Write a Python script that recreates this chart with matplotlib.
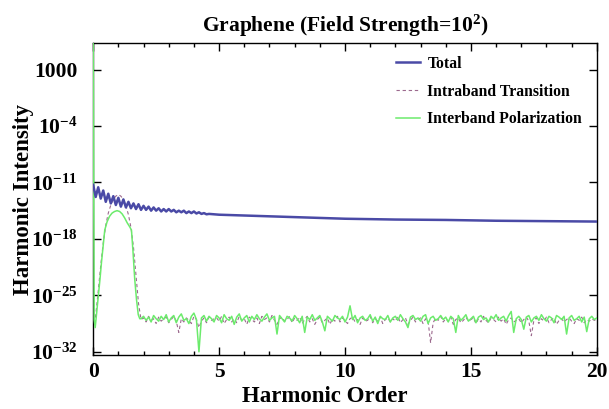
import matplotlib
matplotlib.use('Agg')
import matplotlib.pyplot as plt
from matplotlib.ticker import FixedLocator, MultipleLocator

# ── data (y values are log10 of harmonic intensity) ──
total_x = [0.0, 0.1, 0.2, 0.3, 0.4, 0.5, 0.6, 0.7, 0.8, 0.9,
           1.0, 1.1, 1.2, 1.3, 1.4, 1.5, 1.6, 1.7, 1.8, 1.9,
           2.0, 2.1, 2.2, 2.3, 2.4, 2.5, 2.6, 2.7, 2.8, 2.9,
           3.0, 3.1, 3.2, 3.3, 3.4, 3.5, 3.6, 3.7, 3.8, 3.9,
           4.0, 4.1, 4.2, 4.3, 4.4, 4.5, 4.6,
           5, 6, 7, 8, 9, 10, 12, 14, 16, 18, 20]
total_log = [-11.3, -12.8, -11.6, -13.0, -12.0, -13.4, -12.4, -13.6, -12.7, -13.8,
             -12.9, -14.0, -13.1, -14.1, -13.4, -14.2, -13.6, -14.3, -13.7, -14.4,
             -13.9, -14.4, -14.0, -14.5, -14.1, -14.5, -14.2, -14.6, -14.3, -14.6,
             -14.3, -14.6, -14.4, -14.7, -14.5, -14.7, -14.5, -14.8, -14.6, -14.8,
             -14.6, -14.85, -14.7, -14.9, -14.8, -14.95, -14.9,
             -15.0, -15.1, -15.2, -15.3, -15.4, -15.5, -15.6, -15.65, -15.75, -15.8, -15.85]

# low-order hump
inter_hump_x = [0.0, 0.04, 0.08, 0.15, 0.2, 0.27, 0.33, 0.4, 0.46, 0.55, 0.65, 0.75,
                0.85, 0.95, 1.05, 1.15, 1.25, 1.35, 1.45, 1.52, 1.58, 1.65, 1.72, 1.79, 1.85]
inter_hump_log = [7.0, -28.0, -29.0, -26.8, -25.1, -23.0, -20.9, -18.7, -16.9, -15.9, -15.2, -14.8,
                  -14.6, -14.5, -14.6, -14.9, -15.4, -16.0, -16.5, -16.9, -19.5, -23.0, -25.5, -27.4, -27.9]
intra_hump_x = [0.04, 0.1, 0.2, 0.3, 0.4, 0.5, 0.6, 0.7, 0.8, 0.9,
                1.0, 1.1, 1.2, 1.3, 1.4, 1.5, 1.6, 1.7, 1.8]
intra_hump_log = [-28.5, -27.5, -24.5, -21.3, -18.5, -16.3, -14.8, -13.8, -13.1, -12.7,
                  -12.5, -12.7, -13.1, -13.9, -15.0, -16.6, -19.0, -22.5, -26.0]

# noise floor, harmonic order 1.9 .. 20.0 in steps of 0.1
floor_x = [round(1.9 + 0.1 * i, 1) for i in range(182)]
inter_floor = [
    -27.9, -27.6, -28.1, -27.7, -28.3, -27.5, -27.9, -28.2, -27.6, -28.0,
    -27.4, -28.3, -27.8, -27.5, -28.4, -27.7, -27.3, -28.1, -27.9, -28.5,
    -27.6, -27.2, -28.0, -32.0, -27.8, -27.5, -28.2, -27.6, -27.9, -28.3,
    -27.5, -27.8, -28.4, -27.4, -27.9, -28.1, -27.6, -28.6, -27.7, -27.3,
    -28.2, -27.8, -27.5, -28.3, -27.6, -28.0, -27.4, -27.9, -28.2, -27.7,
    -27.3, -28.1, -27.8, -27.6, -29.8, -27.5, -27.9, -28.3, -27.6, -27.8,
    -28.2, -27.5, -27.9, -28.4, -27.6, -29.6, -27.7, -28.0, -27.4, -28.1,
    -27.8, -27.5, -28.3, -29.4, -27.6, -27.9, -28.2, -27.5, -27.8, -28.0,
    -27.6, -28.3, -27.7, -26.3, -28.0, -27.5, -28.4, -27.8, -27.6, -28.1,
    -27.9, -27.4, -28.2, -27.7, -28.5, -27.6, -27.9, -28.0, -27.5, -28.3,
    -27.8, -27.6, -28.1, -27.4, -27.9, -28.3, -29.0, -27.7, -27.5, -28.0,
    -27.8, -28.2, -27.6, -27.4, -28.5, -27.8, -27.6, -28.1, -27.9, -27.5,
    -28.0, -27.7, -28.3, -27.6, -27.9, -29.6, -27.5, -28.1, -27.8, -27.4,
    -28.2, -27.9, -27.6, -28.4, -27.7, -27.5, -28.0, -27.8, -28.3, -27.6,
    -27.9, -27.4, -28.1, -27.8, -27.6, -28.2, -27.5, -27.0, -29.6, -27.9,
    -27.6, -28.0, -29.2, -27.7, -27.5, -28.3, -27.8, -27.6, -28.1, -27.4,
    -27.9, -28.2, -27.6, -27.8, -28.4, -27.5, -27.7, -28.0, -27.6, -29.8,
    -27.8, -27.5, -28.1, -27.9, -27.6, -28.3, -27.7, -29.5, -27.9, -27.6,
    -28.0, -27.8]
intra_floor = [
    -28.0, -27.8, -28.3, -27.6, -28.1, -27.9, -28.5, -27.7, -28.2, -27.9,
    -27.7, -28.4, -28.0, -27.6, -28.2, -29.6, -27.9, -28.3, -27.8, -28.1,
    -28.5, -27.6, -28.0, -29.0, -28.2, -27.8, -28.4, -27.7, -28.1, -27.9,
    -27.8, -28.2, -27.6, -28.5, -28.0, -27.7, -28.3, -27.9, -28.4, -27.6,
    -28.1, -27.9, -28.6, -27.7, -28.0, -28.3, -27.8, -28.5, -27.6, -28.0,
    -27.8, -28.3, -27.5, -28.1, -28.6, -27.9, -27.7, -28.2, -28.0, -27.6,
    -28.4, -27.8, -28.1, -27.7, -28.5, -28.0, -27.6, -28.3, -27.9, -28.6,
    -28.0, -27.7, -28.4, -28.1, -27.8, -28.6, -27.9, -28.2, -27.6, -28.3,
    -27.8, -28.1, -28.5, -27.9, -27.7, -28.3, -28.0, -28.6, -27.8, -28.2,
    -28.1, -27.6, -28.4, -27.9, -28.2, -27.7, -28.5, -28.0, -27.8, -28.3,
    -27.9, -28.2, -27.6, -28.4, -28.0, -27.8, -28.6, -28.1, -27.7, -28.3,
    -28.0, -27.8, -28.5, -27.9, -28.2, -30.9, -28.4, -27.8, -28.1, -27.6,
    -28.3, -27.9, -28.2, -27.7, -28.6, -28.0, -27.8, -28.4, -28.1, -27.7,
    -28.2, -28.0, -27.8, -28.5, -27.9, -28.3, -27.6, -28.1, -28.4, -27.8,
    -28.0, -28.3, -27.7, -28.2, -27.9, -28.6, -28.0, -27.8, -28.3, -28.1,
    -27.9, -28.4, -28.0, -27.7, -28.2, -30.0, -28.1, -27.8, -28.5, -27.9,
    -28.2, -27.7, -28.4, -28.0, -27.8, -28.6, -28.1, -27.9, -28.3, -28.0,
    -27.8, -28.2, -28.5, -27.9, -28.1, -27.7, -28.4, -28.0, -28.2, -27.9,
    -28.1, -28.0]

ytick_exp = [3, -4, -11, -18, -25, -32]
ytick_labels = ['1000', r'$10^{-4}$', r'$10^{-11}$', r'$10^{-18}$', r'$10^{-25}$', r'$10^{-32}$']

C_TOT = '#4A4AA6'
C_INTRA = '#9C6A8E'
C_INTER = '#6CEB6C'

plt.rcParams.update({
    'font.family': 'Liberation Serif',
    'font.weight': 'bold',
    'mathtext.fontset': 'custom',
    'mathtext.rm': 'Liberation Serif:bold',
    'mathtext.it': 'Liberation Serif:bold',
    'mathtext.bf': 'Liberation Serif:bold',
})

fig = plt.figure(figsize=(6.09, 4.09), dpi=100)
ax = fig.add_axes([0.153, 0.132, 0.827, 0.763])

ax.plot(intra_hump_x + floor_x, intra_hump_log + intra_floor, color=C_INTRA,
        lw=0.8, dashes=(3, 2.5), label='Intraband Transition', zorder=2)
ax.plot(inter_hump_x + floor_x, inter_hump_log + inter_floor, color=C_INTER,
        lw=1.1, label='Interband Polarization', zorder=3)
ax.plot(total_x, total_log, color=C_TOT, lw=1.8, label='Total', zorder=4)

ax.set_xlim(0, 20)
ax.set_ylim(-32.4, 6.3)
ax.xaxis.set_major_locator(MultipleLocator(5))
ax.xaxis.set_minor_locator(MultipleLocator(1))
ax.yaxis.set_major_locator(FixedLocator(ytick_exp))
ax.set_yticklabels(ytick_labels)
ax.tick_params(which='both', direction='in', top=True, right=True, labelsize=15.5, width=1)
ax.tick_params(which='major', length=6)
ax.tick_params(which='minor', length=3)
ax.tick_params(axis='y', which='major', pad=11)
ax.tick_params(axis='x', which='major', pad=5)
for s in ax.spines.values():
    s.set_linewidth(1.0)

ax.set_title('Graphene (Field Strength=10$^{2}$)', fontsize=15.5, fontweight='bold', pad=8)
ax.set_xlabel('Harmonic Order', fontsize=16.5, fontweight='bold')
ax.xaxis.set_label_coords(0.46, -0.1)
ax.set_ylabel('Harmonic Intensity', fontsize=16.5, fontweight='bold', labelpad=-2)

h, l = ax.get_legend_handles_labels()
order = [2, 0, 1]
ax.legend([h[i] for i in order], [l[i] for i in order], loc='upper right',
          frameon=False, handlelength=1.5, handletextpad=0.5, labelspacing=0.75,
          bbox_to_anchor=(0.999, 1.004), prop={'weight': 'bold', 'size': 11.3})

fig.savefig('out.png', dpi=100)
